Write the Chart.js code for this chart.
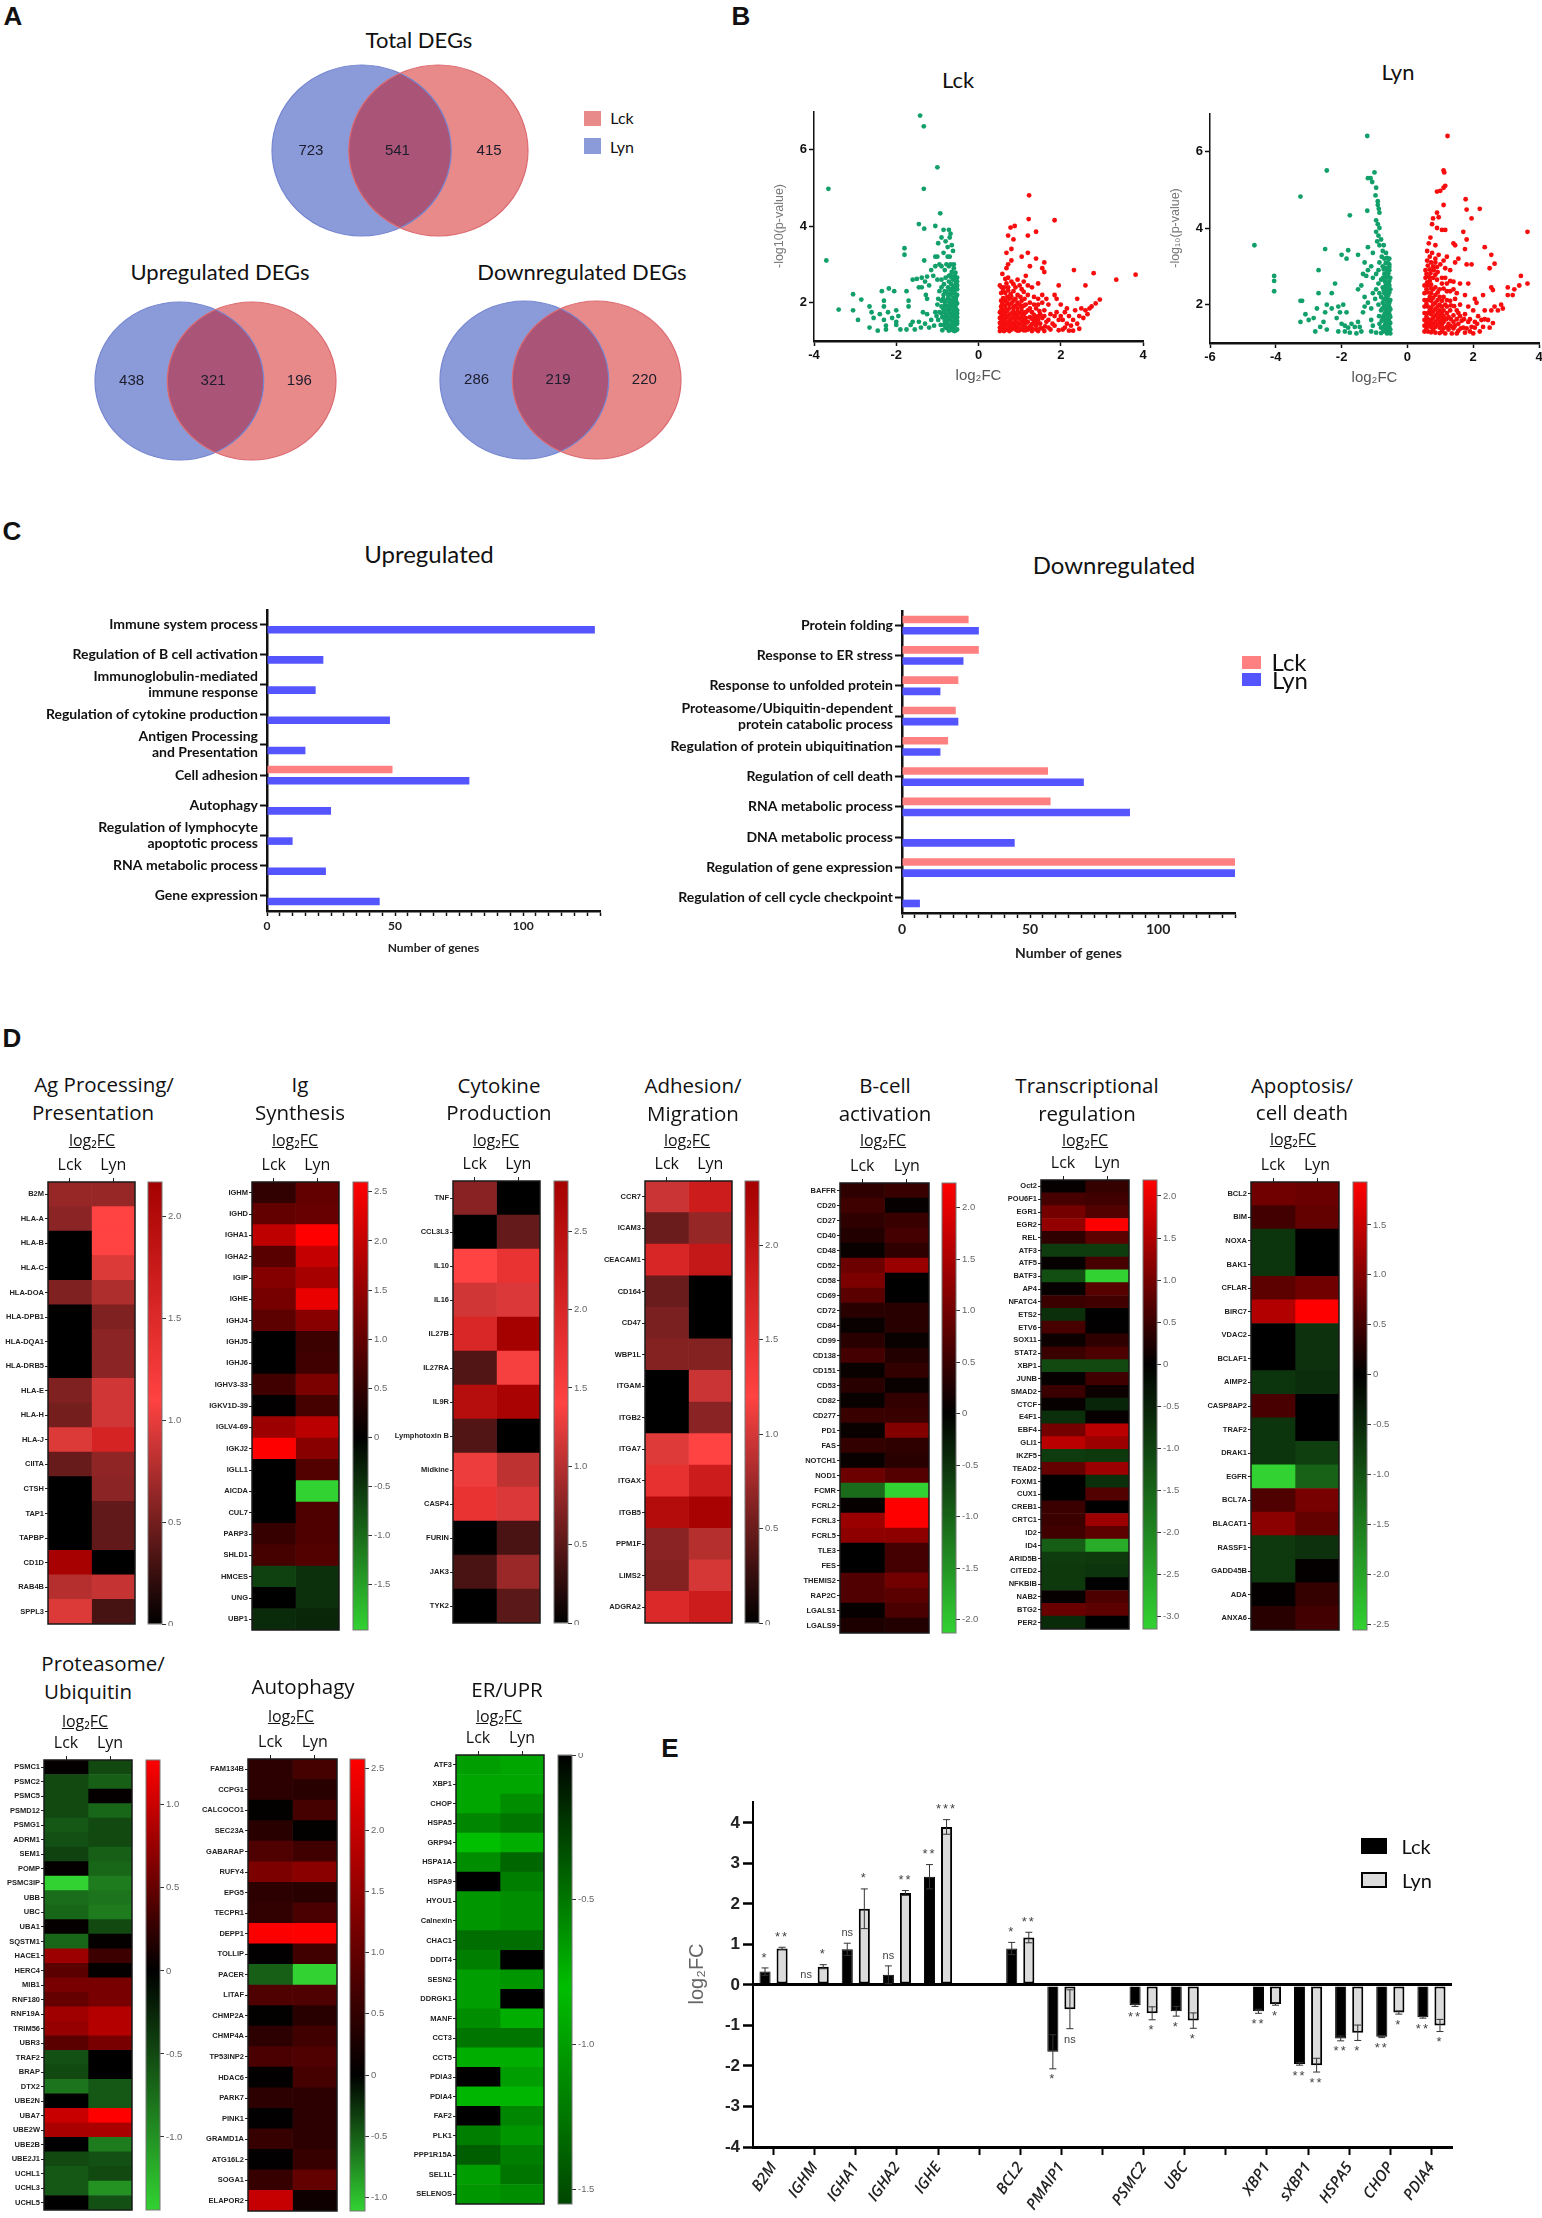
<!DOCTYPE html>
<html>
<head>
<meta charset="utf-8">
<title>DEG figure</title>
<script src="https://cdn.jsdelivr.net/npm/chart.js@4"></script>
<style>
  body { margin: 0; background: #fff; }
  #page { position: relative; width: 1542px; height: 2218px; overflow: hidden; }
  canvas { position: absolute; }
  .t { position: absolute; white-space: nowrap; transform: translate(-50%, -50%); color: #111; }
</style>
</head>
<body>
<div id="page"></div>
<script>
// ---- A: venn counts (Lyn only, both, Lck only)
const totalCounts = [723, 541, 415];
const upCounts = [438, 321, 196];
const downCounts = [286, 219, 220];

// ---- B: volcano points [log2FC, -log10 p]
const lckDown = [[-3.65,4.97],[-3.7,3.1],[-1.42,6.88],[-1.33,6.6],[-1,5.53],[-1.33,4.97],[-.93,4.33],[-1.45,4.05],[-1.05,4],[-1.32,3.93],[-.85,3.9],[-.72,3.9],[-1.8,3.42],[-1.8,3.25],[-1.32,3.1],[-3.05,2.22],[-2.85,2.08],[-3.4,1.82],[-3.05,1.8],[-2.93,1.55],[-2.65,1.9],[-2.35,2.3],[-2.18,2.37],[-2.05,2.3],[-1.75,2.3],[-2.3,2.05],[-2.3,1.9],[-1.7,2.05],[-1.7,1.9],[-2.6,1.75],[-2.55,1.6],[-2.4,1.7],[-2.2,1.75],[-2,1.8],[-2.1,1.6],[-2.3,1.55],[-1.95,1.65],[-2,1.5],[-2.65,1.35],[-2.45,1.27],[-2.25,1.4],[-2.25,1.3],[-2,1.42],[-1.9,1.3],[-1.75,1.3],[-1.65,1.42],[-1.6,1.5],[-1.55,1.3],[-1.45,1.5],[-1.4,1.35],[-1.3,1.45],[-1.35,1.75],[-1.25,1.7],[-1.2,1.35],[-1.15,1.55],[-1.05,1.75],[-1.08,1.4],[-1.6,2.6],[-1.5,2.62],[-1.38,2.65],[-1.25,2.68],[-1.1,2.7],[-1.45,2.4],[-1.38,2.4],[-1.3,2.55],[-1.2,2.45],[-1.28,2.2],[-1.25,2.1],[-1.05,2.95],[-.95,3],[-1.15,2.85],[-.85,3.3],[-1,3.2],[-1.05,3.2],[-.98,3.55],[-.9,3.7],[-.75,3.45],[-.7,3.7],[-.68,3.8],[-.8,3.6],[-.65,3.5],[-.75,3.2],[-.7,3.2],[-.62,3.35],[-.9,2.95],[-.82,2.85],[-.78,3],[-.68,3],[-.6,3],[-1,2.6],[-.9,2.6],[-.8,2.65],[-.72,2.7],[-.65,2.8],[-.58,2.7],[-.52,2.65],[-.62,2.6],[-.55,2.5],[-.95,2.3],[-.85,2.2],[-.9,2.05],[-.78,2.28],[-.7,2.35],[-.62,2.38],[-.52,2.35],[-.58,2.25],[-.66,2.2],[-.74,2.12],[-.82,2.02],[-.55,2.12],[-.62,2.05],[-.7,2],[-.76,1.92],[-.86,1.85],[-.95,1.75],[-.52,1.98],[-.58,1.9],[-.64,1.85],[-.72,1.8],[-.8,1.72],[-.88,1.62],[-.98,1.55],[-.52,1.8],[-.58,1.72],[-.66,1.68],[-.74,1.6],[-.82,1.52],[-.92,1.42],[-.52,1.62],[-.58,1.55],[-.65,1.5],[-.72,1.42],[-.8,1.35],[-.88,1.28],[-.52,1.45],[-.58,1.38],[-.64,1.32],[-.72,1.27],[-.52,1.3],[-.58,1.26],[-.55,2.2],[-.68,1.95],[-.6,1.62],[-.52,1.72],[-.7,1.55],[-.78,1.45],[-.62,1.42],[-.52,1.52],[-.56,2.02]];
const lckDownCore = [[-.55,1.28],[-.62,1.28],[-.68,1.36],[-.76,1.33],[-.84,1.42],[-.6,1.47],[-.68,1.58],[-.76,1.52],[-.84,1.62],[-.9,1.72],[-.56,1.65],[-.62,1.72],[-.7,1.72],[-.78,1.68],[-.84,1.78],[-.9,1.9],[-.55,1.85],[-.6,1.8],[-.68,1.82],[-.76,1.82],[-.82,1.92],[-.55,1.95],[-.62,1.97],[-.7,1.9],[-.78,2.05],[-.86,2.1],[-.55,2.05],[-.6,2.12],[-.68,2.08],[-.74,2.22],[-.82,2.3],[-.52,2.2],[-.6,2.3],[-.66,2.3],[-.74,2.4],[-.84,2.48],[-.52,2.45],[-.58,2.42],[-.66,2.48],[-.72,2.55],[-.58,2.6],[-.66,2.66],[-.52,2.55],[-.56,2.78],[-.6,2.9],[-.72,2.95],[-.68,2.72],[-.9,2.4],[-.98,2.1],[-1,1.95],[-1.02,1.65]];
const lckUp = [[1.23,4.8],[1.22,4.18],[1.85,4.15],[.88,4],[.78,3.96],[1.4,3.85],[1.2,3.75],[.72,3.75],[.85,3.65],[.8,3.4],[.68,3.3],[1.05,3.2],[1.2,3.3],[1.4,3.15],[.8,3.1],[.72,3],[.68,2.9],[1.25,2.95],[1.6,3.05],[1.55,2.9],[1.6,2.8],[2.32,2.85],[2.8,2.77],[3.35,2.6],[3.82,2.73],[2.6,2.45],[1.95,2.45],[1.45,2.5],[1.15,2.7],[.72,2.65],[.65,2.62],[.58,2.75],[.8,2.55],[.95,2.6],[1.1,2.55],[.52,2.45],[.62,2.4],[.72,2.4],[.9,2.4],[1.05,2.35],[1.3,2.4],[1.2,2.2],[1.55,2.2],[.55,2.25],[.65,2.25],[.78,2.22],[.95,2.2],[1.85,2.2],[1.9,2.1],[2,1.95],[2.4,2.1],[2.95,2.08],[2.85,1.98],[2.75,1.9],[2.7,1.85],[2.6,1.8],[2.55,1.6],[2.65,1.7],[2.35,1.8],[2.15,1.85],[2.1,1.75],[2.2,1.65],[2.3,1.55],[2.05,1.55],[1.95,1.55],[1.7,1.95],[1.55,2],[1.45,1.95],[1.4,1.85],[1.6,1.8],[1.75,1.7],[1.85,1.65],[.55,2.05],[.65,2.05],[.75,2.1],[.85,2.05],[.95,2],[1.05,2.05],[1.15,1.95],[1.25,2],[.55,1.9],[.65,1.92],[.75,1.95],[.85,1.88],[.95,1.85],[1.05,1.88],[1.2,1.8],[1.3,1.75],[.52,1.75],[.6,1.78],[.7,1.78],[.8,1.72],[.9,1.7],[1,1.72],[1.1,1.7],[1.25,1.62],[1.45,1.65],[1.55,1.6],[.52,1.6],[.6,1.62],[.7,1.62],[.8,1.58],[.9,1.56],[1,1.58],[1.1,1.55],[1.2,1.5],[1.35,1.5],[1.5,1.45],[1.65,1.5],[.52,1.47],[.6,1.48],[.7,1.46],[.8,1.44],[.9,1.42],[1,1.44],[1.1,1.4],[1.25,1.38],[1.4,1.4],[1.55,1.33],[.52,1.35],[.6,1.35],[.7,1.32],[.8,1.3],[.9,1.3],[1,1.28],[1.1,1.28],[1.2,1.3],[1.3,1.26],[1.45,1.26],[.52,1.26],[.62,1.26],[.75,1.26],[1.6,1.26],[1.85,1.4],[1.95,1.28],[2.05,1.3],[2.15,1.45],[2.2,1.27],[2.3,1.27],[2.45,1.32],[1.75,1.3],[1.62,1.38],[2.1,1.35],[1.38,1.6],[1.48,1.78],[1.6,1.65]];
const lckUpCore = [[.56,1.3],[.66,1.29],[.76,1.36],[.86,1.36],[.96,1.35],[1.06,1.34],[1.16,1.35],[1.3,1.33],[1.4,1.3],[1.5,1.33],[.56,1.41],[.65,1.42],[.75,1.4],[.85,1.48],[.95,1.48],[1.05,1.49],[1.15,1.46],[1.3,1.44],[1.42,1.48],[.56,1.53],[.65,1.55],[.75,1.52],[.85,1.62],[.95,1.63],[1.05,1.62],[1.15,1.6],[1.3,1.58],[1.45,1.55],[.56,1.68],[.65,1.7],[.75,1.68],[.85,1.78],[.95,1.76],[1.05,1.78],[1.15,1.75],[1.35,1.68],[1.25,1.85],[.56,1.82],[.65,1.84],[.75,1.85],[.9,1.92],[1,1.95],[1.1,1.92],[.58,1.97],[.7,2],[.8,1.98],[.9,2.1],[1.02,2.15],[1.12,2.1],[.6,2.12],[.7,2.15],[.8,2.15],[.6,2.32],[.72,2.32],[.85,2.3],[1.1,2.28],[.56,2.4],[.68,2.5],[.85,2.48],[1,2.45],[1.2,2.45],[1.35,2.15],[1.45,2.1],[1.65,2.1],[1.7,1.55],[1.8,1.45],[1.9,1.75],[2.0,1.65],[2.25,1.4],[2.4,1.45],[2.45,1.65],[2.5,1.85],[1.35,1.95],[1.5,1.7],[1.7,1.35],[1.15,1.28],[.95,1.27]];
const lynDown = [[-4.65,3.55],[-4.05,2.75],[-4.05,2.62],[-4.05,2.35],[-3.25,4.82],[-2.45,5.5],[-1.22,6.4],[-1,5.45],[-1.12,5.3],[-1.2,5.3],[-1.07,5.2],[-.95,5.05],[-.97,4.85],[-.9,4.7],[-1.75,4.33],[-1.22,4.45],[-.9,4.6],[-.87,4.5],[-.85,4.4],[-.95,4.2],[-.9,4.1],[-.85,4],[-.95,3.9],[-.88,3.8],[-.92,3.65],[-.8,3.7],[-.85,3.55],[-2.5,3.45],[-1.8,3.42],[-2,3.3],[-1.85,3.2],[-1.5,3.3],[-1.2,3.5],[-1.05,3.35],[-1.3,3.1],[-2.7,2.9],[-2.2,2.55],[-3.2,2.1],[-3.25,2.1],[-2.3,2.3],[-2.7,2.3],[-2.45,2],[-2.75,1.9],[-2.1,1.95],[-1.95,2],[-1.85,1.8],[-2.05,1.8],[-2.3,1.9],[-2.5,1.8],[-3.1,1.75],[-3,1.6],[-3.25,1.55],[-2.85,1.65],[-2.55,1.55],[-2.65,1.42],[-2.8,1.3],[-2.45,1.35],[-2.15,1.65],[-2,1.5],[-1.9,1.45],[-1.8,1.4],[-1.7,1.5],[-1.6,1.42],[-1.5,1.55],[-2.1,1.3],[-1.9,1.3],[-1.75,1.27],[-1.55,1.25],[-1.4,1.3],[-1.45,1.42],[-1.1,1.6],[-1.05,1.45],[-1.1,1.3],[-.95,1.27],[-1.5,2.4],[-1.4,2.5],[-1.35,2.8],[-1.25,2.75],[-1.3,2.2],[-1.2,2.9],[-1.1,3],[-1.05,2.7],[-1.05,2.3],[-1.2,2.05],[-1.3,1.95],[-1.35,1.8],[-1.1,1.9],[-.98,2.15],[-.95,2.4],[-.95,2.8],[-.75,3.4],[-.65,3.35],[-.7,3.2],[-.6,3.1],[-.75,3],[-.65,2.95],[-.55,2.9],[-.7,2.8],[-.6,2.75],[-.52,2.7],[-.8,2.65],[-.68,2.6],[-.58,2.55],[-.75,2.45],[-.62,2.42],[-.52,2.4],[-.7,2.3],[-.58,2.25],[-.8,2.2],[-.65,2.15],[-.52,2.12],[-.75,2.05],[-.6,2],[-.68,1.9],[-.52,1.88],[-.8,1.85],[-.6,1.78],[-.72,1.72],[-.52,1.68],[-.62,1.6],[-.78,1.58],[-.52,1.52],[-.68,1.48],[-.58,1.42],[-.8,1.4],[-.52,1.35],[-.68,1.32],[-.58,1.27],[-.8,1.26],[-.52,1.25],[-.55,2.05],[-.62,1.92],[-.55,1.75],[-.7,1.62],[-.56,1.58],[-.6,2.35],[-.55,2.62],[-.62,2.85],[-.55,3.05]];
const lynDownCore = [[-.72,3.55],[-.78,3.25],[-.62,3.22],[-.55,3.2],[-.66,3.08],[-.72,2.92],[-.55,2.98],[-.65,2.7],[-.58,2.82],[-.74,2.7],[-.55,2.5],[-.66,2.5],[-.72,2.38],[-.55,2.32],[-.65,2.25],[-.72,2.15],[-.58,2.14],[-.62,2.08],[-.7,1.98],[-.56,1.96],[-.76,1.9],[-.64,1.84],[-.55,1.84],[-.68,1.78],[-.6,1.7],[-.75,1.66],[-.56,1.66],[-.66,1.55],[-.58,1.5],[-.72,1.42],[-.62,1.36],[-.55,1.42],[-.74,1.3],[-.62,1.25],[-.85,1.5],[-.86,1.7],[-.88,2],[-.85,2.3],[-.88,2.55],[-.88,2.9],[-.85,3.1]];
const lynUp = [[1.22,6.4],[1.1,5.5],[1.12,5.45],[1.15,5.1],[.9,4.95],[1,4.97],[1.1,5.05],[1.77,4.75],[1.1,4.6],[.9,4.4],[1.8,4.48],[2.2,4.5],[1.95,4.25],[.95,4.28],[.78,4.25],[.75,4.1],[.9,4],[3.65,3.9],[1.7,3.9],[1.05,3.95],[1.15,3.95],[1.8,3.7],[.7,3.75],[.65,3.6],[.85,3.55],[1.4,3.6],[1.45,3.55],[1.75,3.45],[2.35,3.5],[2.55,3.3],[.6,3.4],[.75,3.35],[.95,3.3],[1.2,3.25],[1.55,3.2],[1.45,3.1],[1.8,3.05],[1.95,3.05],[2.65,3.07],[2.5,2.95],[.6,3.15],[.72,3.1],[.85,3.1],[1,3.05],[1.15,2.95],[1.3,2.9],[.55,2.9],[.68,2.92],[.8,2.9],[.92,2.85],[3.45,2.75],[3.65,2.55],[3.4,2.5],[3.05,2.45],[3.25,2.4],[3.2,2.25],[3.05,2.25],[2.55,2.45],[2.6,2.38],[2.3,2.25],[1.85,2.55],[1.6,2.55],[1.4,2.6],[1.15,2.7],[.55,2.7],[.66,2.72],[.78,2.7],[.9,2.65],[1.05,2.55],[.52,2.5],[.62,2.5],[.72,2.52],[.85,2.45],[.98,2.4],[1.2,2.35],[1.5,2.3],[1.75,2.25],[.52,2.3],[.62,2.32],[.72,2.3],[.85,2.25],[.98,2.2],[1.1,2.2],[1.3,2.1],[1.45,2.15],[2.05,2.15],[2.1,2.05],[2.85,2],[2.9,1.9],[2.65,1.95],[2.75,1.85],[2.55,1.85],[2.35,1.85],[.52,2.12],[.62,2.12],[.72,2.1],[.85,2.05],[.98,2],[1.15,2],[1.6,2],[1.85,1.95],[2,1.85],[.52,1.95],[.62,1.95],[.72,1.92],[.85,1.88],[.98,1.85],[1.1,1.85],[1.3,1.85],[1.5,1.85],[.52,1.78],[.62,1.78],[.72,1.75],[.85,1.72],[.98,1.7],[1.1,1.7],[1.25,1.68],[1.4,1.72],[1.6,1.7],[1.75,1.75],[2.15,1.7],[2.25,1.6],[2.05,1.55],[2.45,1.6],[.52,1.6],[.62,1.62],[.72,1.6],[.85,1.56],[.98,1.55],[1.1,1.55],[1.25,1.5],[1.4,1.55],[1.55,1.5],[1.85,1.55],[.52,1.45],[.62,1.45],[.72,1.42],[.85,1.42],[.98,1.4],[1.1,1.38],[1.25,1.35],[1.4,1.38],[1.55,1.32],[1.7,1.4],[2.3,1.42],[2.5,1.4],[2.2,1.3],[.52,1.3],[.62,1.3],[.72,1.28],[.85,1.27],[.98,1.26],[1.15,1.25],[1.35,1.25],[1.5,1.25],[1.75,1.27],[1.9,1.3],[2,1.25],[.58,1.38],[.68,1.52],[.58,1.68],[.68,1.85],[.58,2.02],[.68,2.2],[.58,2.4],[.68,2.62],[.78,1.35],[.78,1.5],[.92,1.63],[.92,1.48]];
const lynUpCore = [[.58,1.52],[.78,1.65],[.92,1.78],[.78,1.82],[.92,1.95],[.78,2],[.92,2.12],[.78,2.18],[.92,2.32],[.78,2.4],[.6,2.58],[.72,2.42],[.58,2.8],[.7,2.82],[.85,2.78],[.62,3.02],[.78,3],[.9,2.98],[.68,3.25],[.85,3.2],[1.05,1.3],[1.2,1.42],[1.05,1.48],[1.18,1.62],[1.05,1.62],[1.2,1.78],[1.05,1.78],[1.2,1.95],[1.05,1.95],[1.05,2.1],[1.2,2.12],[1.32,1.62],[1.45,1.45],[1.32,1.44],[1.32,1.98],[1.42,1.96],[1.5,1.62],[1.62,1.38],[1.65,1.58],[1.72,1.62],[1.55,1.78],[1.8,1.38],[1.9,1.62],[1.95,1.42],[2.05,1.4],[2.12,1.5],[2.35,1.62],[2.6,1.52],[1.1,2.42],[1.3,2.35],[1.05,2.7],[1.3,2.62],[1.2,2.55],[1.1,3.15],[1.4,2.4]];

// ---- C: enrichment bars
const upTerms = ['Immune system process','Regulation of B cell activation',['Immunoglobulin-mediated','immune response'],'Regulation of cytokine production',['Antigen Processing','and Presentation'],'Cell adhesion','Autophagy',['Regulation of lymphocyte','apoptotic process'],'RNA metabolic process','Gene expression'];
const upLck = [0, 0, 0, 0, 0, 49, 0, 0, 0, 0];
const upLyn = [128, 22, 19, 48, 15, 79, 25, 10, 23, 44];
const downTerms = ['Protein folding','Response to ER stress','Response to unfolded protein',['Proteasome/Ubiquitin-dependent','protein catabolic process'],'Regulation of protein ubiquitination','Regulation of cell death','RNA metabolic process','DNA metabolic process','Regulation of gene expression','Regulation of cell cycle checkpoint'];
const downLck = [26, 30, 22, 21, 18, 57, 58, 0, 130, 0];
const downLyn = [30, 24, 15, 22, 15, 71, 89, 44, 130, 7];

// ---- D: heatmaps, log2FC per gene
const agGenes = ['B2M','HLA-A','HLA-B','HLA-C','HLA-DOA','HLA-DPB1','HLA-DQA1','HLA-DRB5','HLA-E','HLA-H','HLA-J','CIITA','CTSH','TAP1','TAPBP','CD1D','RAB4B','SPPL3'];
const agLck = [.65,.6,0,0,.55,0,0,0,.55,.5,.95,.45,0,0,0,2.15,.78,.95];
const agLyn = [.65,1.1,1.1,.95,.75,.55,.6,.6,.9,.9,1.6,.62,.6,.42,.42,0,.85,.3];
const igGenes = ['IGHM','IGHD','IGHA1','IGHA2','IGIP','IGHE','IGHJ4','IGHJ5','IGHJ6','IGHV3-33','IGKV1D-39','IGLV4-69','IGKJ2','IGLL1','AICDA','CUL7','PARP3','SHLD1','HMCES','UNG','UBP1'];
const igLck = [.5,1,1.95,.9,1.35,1.2,.95,0,0,.65,.02,1.6,2.6,0,0,0,.55,.7,-.6,0,-.4];
const igLyn = [1,1.05,2.6,2,1.7,2.4,1.4,.6,.65,1.25,.7,1.9,1.4,.85,-1.96,.8,.8,.85,-.45,-.45,-.35];
const cytoGenes = ['TNF','CCL3L3','IL10','IL16','IL27B','IL27RA','IL9R','Lymphotoxin B','Midkine','CASP4','FURIN','JAK3','TYK2'];
const cytoLck = [.75,0,1.4,1.15,2,.45,2.55,.45,1.3,1.75,0,.4,0];
const cytoLyn = [0,.55,1.75,1.2,2.8,1.35,2.75,0,1.05,1.2,.4,.85,.5];
const adhGenes = ['CCR7','ICAM3','CEACAM1','CD164','CD47','WBP1L','ITGAM','ITGB2','ITGA7','ITGAX','ITGB5','PPM1F','LIMS2','ADGRA2'];
const adhLck = [.95,.5,1.7,.5,.58,.62,0,0,1.05,1.5,2.15,.65,.62,1.65];
const adhLyn = [1.85,.7,1.95,0,0,.62,.95,.65,1.2,1.85,2.3,.85,1,1.85];
const bcellGenes = ['BAFFR','CD20','CD27','CD40','CD48','CD52','CD58','CD69','CD72','CD84','CD99','CD138','CD151','CD53','CD82','CD277','PD1','FAS','NOTCH1','NOD1','FCMR','FCRL2','FCRL3','FCRL5','TLE3','FES','THEMIS2','RAP2C','LGALS1','LGALS9'];
const bcellLck = [.4,.55,.4,.3,.08,.95,1.1,.8,.35,.08,.35,.6,.08,.35,.08,.5,.08,.45,.08,.95,-1.1,.05,1.35,1.25,0,0,.7,.7,.05,.25];
const bcellLyn = [.5,.05,.5,.6,.4,1.35,0,0,.35,.35,.08,.3,.45,.08,.45,.5,1.15,.4,.35,.75,-2.13,2.24,2.24,1.25,.6,.6,1,.8,.65,.3];
const tfGenes = ['Oct2','POU6F1','EGR1','EGR2','REL','ATF3','ATF5','BATF3','AP4','NFATC4','ETS2','ETV6','SOX11','STAT2','XBP1','JUNB','SMAD2','CTCF','E4F1','EBF4','GLI1','IKZF5','TEAD2','FOXM1','CUX1','CREB1','CRTC1','ID2','ID4','ARID5B','CITED2','NFKBIB','NAB2','BTG2','PER2'];
const tfLck = [.05,.6,1,1.25,.4,-.9,.05,-1.15,.05,.5,-.7,.6,.1,.5,-1.1,.05,.5,.05,-.7,1,1.6,-.9,.85,0,0,.5,.5,.55,-1.4,-.9,-.85,-.85,.05,.9,-.65];
const tfLyn = [.45,.55,.7,2.19,.8,-.9,.6,-3.15,.75,.55,0,.02,.4,.65,-1.1,.55,.1,-.55,.05,1.6,1.35,-.85,1.35,-.7,.7,0,1.35,.8,-2.6,-.85,-.8,0,.65,.8,0];
const apoGenes = ['BCL2','BIM','NOXA','BAK1','CFLAR','BIRC7','VDAC2','BCLAF1','AIMP2','CASP8AP2','TRAF2','DRAK1','EGFR','BCL7A','BLACAT1','RASSF1','GADD45B','ADA','ANXA6'];
const apoLck = [.85,.5,-.65,-.65,.7,1.35,0,0,-.65,.55,-.65,-.65,-2.56,.6,1.05,-.7,-.7,.03,.3];
const apoLyn = [.8,.75,0,0,.85,1.93,-.6,-.6,-.55,0,0,-.75,-1.2,.9,.75,-.6,.03,.4,.5];
const protGenes = ['PSMC1','PSMC2','PSMC5','PSMD12','PSMG1','ADRM1','SEM1','POMP','PSMC3IP','UBB','UBC','UBA1','SQSTM1','HACE1','HERC4','MIB1','RNF180','RNF19A','TRIM56','UBR3','TRAF2','BRAP','DTX2','UBE2N','UBA7','UBE2W','UBE2B','UBE2J1','UCHL1','UCHL3','UCHL5'];
const protLck = [.02,-.5,-.5,-.5,-.6,-.55,-.45,.02,-1.44,-.75,-.7,.02,-.7,.78,.45,.6,.5,.8,.75,.45,-.55,-.5,-.8,0,1,.85,0,-.5,-.6,-.6,0];
const protLyn = [-.5,-.65,.02,-.7,-.5,-.5,-.65,-.7,-.85,-.8,-.85,-.5,.02,.3,.02,.6,.6,.9,.9,.6,0,0,-.6,-.6,1.27,.85,-.85,-.55,-.5,-1,-.55];
const autoGenes = ['FAM134B','CCPG1','CALCOCO1','SEC23A','GABARAP','RUFY4','EPG5','TECPR1','DEPP1','TOLLIP','PACER','LITAF','CHMP2A','CHMP4A','TP53INP2','HDAC6','PARK7','PINK1','GRAMD1A','ATG16L2','SOGA1','ELAPOR2'];
const autoLck = [.45,.45,.03,.4,.8,1.25,.45,.5,2.55,.02,-.5,.8,.03,.45,.75,.02,.45,.02,.55,.02,.55,2];
const autoLyn = [.7,.4,.7,.03,.65,1.4,.4,.75,2.58,.65,-1.11,.8,.4,.65,.8,.7,.45,.45,.45,.55,1,.15];
const erGenes = ['ATF3','XBP1','CHOP','HSPA5','GRP94','HSPA1A','HSPA9','HYOU1','Calnexin','CHAC1','DDIT4','SESN2','DDRGK1','MANF','CCT3','CCT5','PDIA3','PDIA4','FAF2','PLK1','PPP1R15A','SEL1L','SELENOS'];
const erLck = [-1,-.95,-.95,-1.15,-.8,-1.1,0,-1.05,-1.05,-1.3,-1.2,-1,-1,-1.1,-1.25,-.9,0,-.85,0,-1.2,-1.4,-1,-1.05];
const erLyn = [-.95,-.95,-1.1,-1.25,-.9,-1.35,-1.2,-1.1,-1.1,-1.3,0,-1.05,0,-.9,-1.25,-.9,-1,-.85,-1.15,-1.05,-1.2,-1.25,-1.1];

// ---- E: qPCR bars
const qpcrGenes = ['B2M','IGHM','IGHA1','IGHA2','IGHE','','BCL2','PMAIP1','','PSMC2','UBC','','XBP1','sXBP1','HSPA5','CHOP','PDIA4'];
const qpcrLck = [.33,0,.88,.25,2.67,null,.9,-1.65,null,-.5,-.65,null,-.65,-1.95,-1.32,-1.28,-.8];
const qpcrLyn = [.9,.45,1.88,2.27,3.9,null,1.17,-.6,null,-.7,-.88,null,-.47,-1.98,-1.18,-.68,-1];
const qpcrLckErr = [.09,0,.15,.22,.3,null,.15,.42,null,.03,.12,null,.05,.03,.06,.02,.02];
const qpcrLynErr = [.03,.05,.49,.06,.18,null,.13,.48,null,.16,.19,null,.03,.17,.19,.04,.15];
const qpcrLckSig = ['*','ns','ns','ns','**','','*','*','','**','*','','**','**','**','**','**'];
const qpcrLynSig = ['**','*','*','**','***','','**','ns','','*','*','','*','**','*','*','*'];

const LATO = 'Lato, sans-serif';
const OPEN = '"Open Sans", sans-serif';
const NARROW = '"Liberation Sans Narrow", "Liberation Sans", sans-serif';
const ARIAL = '"Liberation Sans", sans-serif';

Chart.defaults.animation = false;
Chart.defaults.responsive = false;
Chart.defaults.maintainAspectRatio = false;
Chart.defaults.plugins.legend.display = false;
Chart.defaults.plugins.tooltip.enabled = false;
Chart.defaults.layout.autoPadding = false;

const page = document.getElementById('page');

function text(str, x, y, size, family, extra) {
  const d = document.createElement('div');
  d.className = 't';
  d.textContent = str;
  d.style.left = x + 'px';
  d.style.top = y + 'px';
  d.style.fontSize = size + 'px';
  d.style.fontFamily = family;
  Object.assign(d.style, extra || {});
  page.appendChild(d);
}

function swatch(x, y, w, h, color, border) {
  const d = document.createElement('div');
  d.style.cssText = `position:absolute;left:${x}px;top:${y}px;width:${w}px;height:${h}px;background:${color};box-sizing:border-box;` + (border ? `border:2px solid ${border};` : '');
  page.appendChild(d);
}

function canvasAt(x, y, w, h) {
  const c = document.createElement('canvas');
  c.width = w;
  c.height = h;
  c.style.left = x + 'px';
  c.style.top = y + 'px';
  c.style.width = w + 'px';
  c.style.height = h + 'px';
  page.appendChild(c);
  return c;
}

// pin the axis boxes so every plot area lands where the reference has it
const fixHeight = h => s => { s.height = h; s.paddingLeft = 0; s.paddingRight = 0; };
const fixWidth = w => s => { s.width = w; s.paddingTop = 0; s.paddingBottom = 0; };
const setTicks = vals => s => { s.ticks = vals.map(value => ({ value })); };

// ---- panel A
const vennPlugin = {
  id: 'venn',
  beforeDatasetsDraw(chart) {
    const { ctx, scales: { x, y } } = chart;
    const counts = chart.config.options.plugins.venn.counts;
    const span = (a, b) => {
      const cx = x.getPixelForValue((a + b) / 2);
      const rx = (x.getPixelForValue(b) - x.getPixelForValue(a)) / 2;
      const ry = (y.getPixelForValue(0) - y.getPixelForValue(1)) / 2;
      const p = new Path2D();
      p.ellipse(cx, y.getPixelForValue(.5), rx, ry, 0, 0, Math.PI * 2);
      return p;
    };
    const lyn = span(0, .7);
    const lck = span(.3, 1);
    ctx.save();
    ctx.fillStyle = '#8b9bd9';
    ctx.fill(lyn);
    ctx.fillStyle = '#e88a8a';
    ctx.fill(lck);
    ctx.save();
    ctx.clip(lyn);
    ctx.fillStyle = '#aa5578';
    ctx.fill(lck);
    ctx.restore();
    ctx.lineWidth = 1.2;
    ctx.strokeStyle = '#7686d0';
    ctx.stroke(lyn);
    ctx.strokeStyle = '#dc6b72';
    ctx.stroke(lck);
    ctx.fillStyle = '#1c1c2c';
    ctx.font = '15px ' + ARIAL;
    ctx.textAlign = 'center';
    ctx.textBaseline = 'middle';
    [.152, .49, .848].forEach((pos, i) => {
      ctx.fillText(String(counts[i]), x.getPixelForValue(pos), y.getPixelForValue(.5));
    });
    ctx.restore();
  }
};

function venn(left, top, right, bottom, counts) {
  const pad = 3;
  new Chart(canvasAt(left - pad, top - pad, right - left + pad * 2, bottom - top + pad * 2), {
    type: 'scatter',
    data: { datasets: [{ data: [] }] },
    options: {
      layout: { padding: pad },
      plugins: { venn: { counts } },
      scales: { x: { display: false, min: 0, max: 1 }, y: { display: false, min: 0, max: 1 } }
    },
    plugins: [vennPlugin]
  });
}

venn(272, 65, 528, 236, totalCounts);
venn(95, 302, 336, 460, upCounts);
venn(440, 301, 681, 459, downCounts);
text('A', 13, 16, 26, ARIAL, { fontWeight: 'bold' });
text('Total DEGs', 419, 39, 22, LATO);
text('Upregulated DEGs', 220, 271, 22, LATO);
text('Downregulated DEGs', 582, 271, 22, LATO);
swatch(584, 111, 17, 15, '#e88a8a');
swatch(584, 138, 17, 16, '#8b9bd9');
text('Lck', 622, 117, 16, LATO);
text('Lyn', 622, 146, 16, LATO);

// ---- panel B
function volcano(l, t, r, b, down, up, xMin, xMax, xTicks, yLabel) {
  const ml = 42, mb = 44, mr = 12;
  new Chart(canvasAt(l - ml, t, r - l + ml + mr, b - t + mb), {
    type: 'scatter',
    data: { datasets: [
      { data: down.map(p => ({ x: p[0], y: p[1] })), backgroundColor: '#12a06a', pointRadius: 2.4, borderWidth: 0 },
      { data: up.map(p => ({ x: p[0], y: p[1] })), backgroundColor: '#f70d0d', pointRadius: 2.4, borderWidth: 0 }
    ] },
    options: {
      layout: { padding: { right: mr } },
      scales: {
        x: {
          min: xMin, max: xMax, afterBuildTicks: setTicks(xTicks), afterFit: fixHeight(mb),
          border: { color: '#111', width: 2.5 },
          grid: { drawOnChartArea: false, tickLength: 5, tickColor: '#111', tickWidth: 1.5 },
          ticks: { color: '#111', font: { family: NARROW, size: 13, weight: 'bold' }, padding: 2, maxRotation: 0 },
          title: { display: true, text: 'log₂FC', color: '#555', font: { family: NARROW, size: 15 }, padding: 0 }
        },
        y: {
          min: 1, max: 7, afterBuildTicks: setTicks([2, 4, 6]), afterFit: fixWidth(ml),
          border: { color: '#111', width: 1.5 },
          grid: { drawOnChartArea: false, tickLength: 5, tickColor: '#111', tickWidth: 1.5 },
          ticks: { color: '#111', font: { family: NARROW, size: 13, weight: 'bold' }, padding: 2 },
          title: { display: true, text: yLabel, color: '#777', font: { family: ARIAL, size: 12.5 }, padding: 0 }
        }
      }
    }
  });
}

volcano(814, 111, 1143, 341, [...lckDown, ...lckDownCore], [...lckUp, ...lckUpCore], -4, 4, [-4, -2, 0, 2, 4], '-log10(p-value)');
volcano(1210, 113, 1539, 343, [...lynDown, ...lynDownCore], [...lynUp, ...lynUpCore], -6, 4, [-6, -4, -2, 0, 2, 4], '-log₁₀(p-value)');
text('B', 741, 16, 26, ARIAL, { fontWeight: 'bold' });
text('Lck', 958, 79, 22, LATO);
text('Lyn', 1398, 71, 22, LATO);

// ---- panel C
function termBars(l, t, r, b, terms, lck, lyn, size, mb, titleSize) {
  const ml = 268;
  new Chart(canvasAt(l - ml, t, r - l + ml + 10, b - t + mb), {
    type: 'bar',
    data: { labels: terms, datasets: [
      { data: lck, backgroundColor: '#ff8080' },
      { data: lyn, backgroundColor: '#5555ff' }
    ] },
    options: {
      indexAxis: 'y',
      layout: { padding: { right: 10 } },
      datasets: { bar: { categoryPercentage: .74, barPercentage: .68 } },
      scales: {
        x: {
          min: 0, max: 130, afterFit: fixHeight(mb),
          border: { color: '#111', width: 2.5 },
          grid: { drawOnChartArea: false, tickLength: 5, tickColor: '#111', tickWidth: 1.5 },
          ticks: { stepSize: 5, includeBounds: false, autoSkip: false, maxRotation: 0, color: '#222', padding: 3,
            font: { family: LATO, size: titleSize, weight: 'bold' },
            callback: v => (v % 50 === 0 ? String(v) : '') },
          title: { display: true, text: 'Number of genes', color: '#222', font: { family: LATO, size: titleSize, weight: 'bold' }, padding: 0 }
        },
        y: {
          afterFit: fixWidth(ml),
          border: { color: '#111', width: 2.5 },
          grid: { offset: false, drawOnChartArea: false, tickLength: 7, tickColor: '#111', tickWidth: 2 },
          ticks: { autoSkip: false, color: '#111', padding: 2, font: { family: LATO, size, weight: 'bold', lineHeight: 1.15 } }
        }
      }
    }
  });
}

termBars(267, 609, 600, 911, upTerms, upLck, upLyn, 14, 44, 12);
termBars(902, 610, 1235, 913, downTerms, downLck, downLyn, 14, 49, 14);
text('C', 12, 531, 26, ARIAL, { fontWeight: 'bold' });
text('Upregulated', 429, 553, 24, LATO);
text('Downregulated', 1114, 564, 24, LATO);
swatch(1242, 656, 19, 13, '#ff8080');
swatch(1242, 673, 19, 13, '#5555ff');
text('Lck', 1289, 661, 24, LATO);
text('Lyn', 1290, 679, 24, LATO);

// ---- panel D
const BLACK = [0, 0, 0], CORAL = [255, 66, 66], DEEP = [165, 0, 0], RED = [255, 0, 0], LIME = [50, 210, 50];

function colorAt(stops, v) {
  if (v <= stops[0][0]) return `rgb(${stops[0][1]})`;
  for (let i = 1; i < stops.length; i++) {
    if (v <= stops[i][0]) {
      const t = (v - stops[i - 1][0]) / (stops[i][0] - stops[i - 1][0]);
      const c = stops[i][1].map((n, k) => Math.round(stops[i - 1][1][k] + (n - stops[i - 1][1][k]) * t));
      return `rgb(${c})`;
    }
  }
  return `rgb(${stops[stops.length - 1][1]})`;
}

const framePlugin = {
  id: 'frame',
  afterDatasetsDraw(chart, args, opts) {
    const { ctx, chartArea: a } = chart;
    ctx.save();
    ctx.strokeStyle = opts.color;
    ctx.lineWidth = opts.width;
    ctx.strokeRect(a.left, a.top, a.right - a.left, a.bottom - a.top);
    ctx.restore();
  }
};

function heatmap(p) {
  const ml = 62, mt = 32, pad = 2;
  const [l, t, r, b] = p.plot;
  new Chart(canvasAt(l - ml, t - mt, r - l + ml + pad, b - t + mt + pad), {
    type: 'bar',
    data: { labels: p.genes, datasets: [
      { data: p.genes.map(() => 1), backgroundColor: c => colorAt(p.stops, p.lck[c.dataIndex]) },
      { data: p.genes.map(() => 1), backgroundColor: c => colorAt(p.stops, p.lyn[c.dataIndex]) }
    ] },
    options: {
      indexAxis: 'y',
      layout: { padding: { right: pad, bottom: pad } },
      datasets: { bar: { categoryPercentage: 1, barPercentage: 1 } },
      plugins: { frame: { color: '#1a1a1a', width: 1.5 } },
      scales: {
        x: {
          type: 'linear', position: 'top', stacked: true, min: 0, max: 2,
          afterBuildTicks: setTicks([.5, 1.5]), afterFit: fixHeight(mt),
          border: { display: false },
          grid: { drawOnChartArea: false, tickLength: 4, tickColor: '#222' },
          ticks: { callback: v => (v < 1 ? 'Lck' : 'Lyn'), color: '#111', padding: 3, maxRotation: 0, font: { family: OPEN, size: 16 } }
        },
        y: {
          stacked: true, afterFit: fixWidth(ml),
          border: { display: false },
          grid: { offset: false, drawOnChartArea: false, tickLength: 3, tickColor: '#222' },
          ticks: { autoSkip: false, color: '#222', padding: 1, font: { family: ARIAL, size: 7.5, weight: 'bold' } }
        }
      }
    },
    plugins: [framePlugin]
  });
  colorbar(p);
  p.title.forEach(line => text(line[0], line[1], line[2] - 1, 20.5, OPEN));
  text('log₂FC', p.fcX, p.fcY - 1, 16, OPEN, { textDecoration: 'underline' });
}

function colorbar(p) {
  const [bl, br] = p.bar;
  const t = p.plot[1], b = p.plot[3];
  const low = p.stops[0][0], high = p.stops[p.stops.length - 1][0];
  const mr = 34;
  new Chart(canvasAt(bl - 2, t - 2, br - bl + 2 + mr, b - t + 4), {
    type: 'bar',
    data: { labels: [''], datasets: [{
      data: [[low, high]],
      backgroundColor: c => {
        const a = c.chart.chartArea;
        if (!a) return '#000';
        const g = c.chart.ctx.createLinearGradient(0, a.bottom, 0, a.top);
        p.stops.forEach(st => g.addColorStop((st[0] - low) / (high - low), colorAt(p.stops, st[0])));
        return g;
      }
    }] },
    options: {
      layout: { padding: { left: 2, top: 2, bottom: 2 } },
      datasets: { bar: { categoryPercentage: 1, barPercentage: 1 } },
      plugins: { frame: { color: '#777', width: 1 } },
      scales: {
        x: { display: false },
        y: {
          position: 'right', min: low, max: high,
          afterBuildTicks: setTicks(p.ticks), afterFit: fixWidth(mr),
          border: { display: false },
          grid: { drawOnChartArea: false, tickLength: 4, tickColor: '#333' },
          ticks: { autoSkip: false, color: '#666', padding: 2, font: { family: ARIAL, size: 9.5 },
            callback: v => (v === 0 ? '0' : v.toFixed(1)) }
        }
      }
    },
    plugins: [framePlugin]
  });
}

const redPeak = (peak, max) => [[0, BLACK], [peak, CORAL], [max, DEEP]];
const redGreen = (min, max) => [[min, LIME], [0, BLACK], [max, RED]];

heatmap({ genes: agGenes, lck: agLck, lyn: agLyn, plot: [48, 1182, 135, 1624], bar: [148, 162],
  stops: redPeak(1.1, 2.17), ticks: [0, .5, 1, 1.5, 2],
  title: [['Ag Processing/', 104, 1085], ['Presentation', 93, 1113]], fcX: 92, fcY: 1141 });
heatmap({ genes: igGenes, lck: igLck, lyn: igLyn, plot: [252, 1182, 339, 1630], bar: [353, 368],
  stops: redGreen(-1.96, 2.6), ticks: [-1.5, -1, -.5, 0, .5, 1, 1.5, 2, 2.5],
  title: [['Ig', 300, 1085], ['Synthesis', 300, 1113]], fcX: 295, fcY: 1141 });
heatmap({ genes: cytoGenes, lck: cytoLck, lyn: cytoLyn, plot: [453, 1181, 540, 1623], bar: [554, 568],
  stops: redPeak(1.4, 2.82), ticks: [0, .5, 1, 1.5, 2, 2.5],
  title: [['Cytokine', 499, 1086], ['Production', 499, 1113]], fcX: 496, fcY: 1141 });
heatmap({ genes: adhGenes, lck: adhLck, lyn: adhLyn, plot: [645, 1181, 732, 1623], bar: [745, 759],
  stops: redPeak(1.2, 2.34), ticks: [0, .5, 1, 1.5, 2],
  title: [['Adhesion/', 693, 1086], ['Migration', 693, 1114]], fcX: 687, fcY: 1141 });
heatmap({ genes: bcellGenes, lck: bcellLck, lyn: bcellLyn, plot: [840, 1183, 929, 1633], bar: [942, 956],
  stops: redGreen(-2.13, 2.24), ticks: [-2, -1.5, -1, -.5, 0, .5, 1, 1.5, 2],
  title: [['B-cell', 885, 1086], ['activation', 885, 1114]], fcX: 883, fcY: 1141 });
heatmap({ genes: tfGenes, lck: tfLck, lyn: tfLyn, plot: [1041, 1180, 1129, 1629], bar: [1143, 1157],
  stops: redGreen(-3.15, 2.19), ticks: [-3, -2.5, -2, -1.5, -1, -.5, 0, .5, 1, 1.5, 2],
  title: [['Transcriptional', 1087, 1086], ['regulation', 1087, 1114]], fcX: 1085, fcY: 1141 });
heatmap({ genes: apoGenes, lck: apoLck, lyn: apoLyn, plot: [1251, 1182, 1339, 1630], bar: [1353, 1367],
  stops: redGreen(-2.56, 1.93), ticks: [-2.5, -2, -1.5, -1, -.5, 0, .5, 1, 1.5],
  title: [['Apoptosis/', 1302, 1086], ['cell death', 1302, 1113]], fcX: 1293, fcY: 1140 });
heatmap({ genes: protGenes, lck: protLck, lyn: protLyn, plot: [44, 1760, 132, 2210], bar: [146, 160],
  stops: redGreen(-1.44, 1.27), ticks: [-1, -.5, 0, .5, 1],
  title: [['Proteasome/', 103, 1664], ['Ubiquitin', 88, 1692]], fcX: 85, fcY: 1722 });
heatmap({ genes: autoGenes, lck: autoLck, lyn: autoLyn, plot: [248, 1759, 337, 2211], bar: [350, 365],
  stops: redGreen(-1.11, 2.58), ticks: [-1, -.5, 0, .5, 1, 1.5, 2, 2.5],
  title: [['Autophagy', 303, 1687]], fcX: 291, fcY: 1717 });
heatmap({ genes: erGenes, lck: erLck, lyn: erLyn, plot: [456, 1755, 544, 2204], bar: [558, 572],
  stops: [[-1.55, [0, 70, 0]], [-.8, [0, 190, 0]], [0, BLACK]], ticks: [-1.5, -1, -.5, 0],
  title: [['ER/UPR', 507, 1690]], fcX: 499, fcY: 1717 });
text('D', 12, 1038, 26, ARIAL, { fontWeight: 'bold' });

// ---- panel E
const errorPlugin = {
  id: 'errorMarks',
  afterDatasetsDraw(chart) {
    const { ctx, scales: { y } } = chart;
    const errs = [qpcrLckErr, qpcrLynErr];
    const sigs = [qpcrLckSig, qpcrLynSig];
    const vals = [qpcrLck, qpcrLyn];
    ctx.save();
    vals.forEach((series, d) => {
      chart.getDatasetMeta(d).data.forEach((bar, i) => {
        if (series[i] === null) return;
        const v = series[i], e = errs[d][i], x = bar.x;
        const hi = y.getPixelForValue(v + e), lo = y.getPixelForValue(v - e);
        ctx.strokeStyle = '#333';
        ctx.lineWidth = 1;
        ctx.beginPath();
        ctx.moveTo(x, hi); ctx.lineTo(x, lo);
        ctx.moveTo(x - 3.5, hi); ctx.lineTo(x + 3.5, hi);
        ctx.moveTo(x - 3.5, lo); ctx.lineTo(x + 3.5, lo);
        if (e > 0) ctx.stroke();
        const mark = sigs[d][i];
        if (mark) {
          ctx.fillStyle = '#444';
          ctx.font = (mark === 'ns' ? '11px ' + NARROW : '13px ' + ARIAL);
          ctx.letterSpacing = mark === 'ns' ? '0px' : '2px';
          ctx.textAlign = 'center';
          ctx.textBaseline = 'middle';
          ctx.fillText(mark, x, v >= 0 ? hi - 10 : lo + 11);
        }
      });
    });
    ctx.restore();
  }
};

(function qpcr() {
  const l = 753, t = 1801, r = 1452, b = 2147, ml = 68, mb = 71;
  new Chart(canvasAt(l - ml, t, r - l + ml + 4, b - t + mb), {
    type: 'bar',
    data: { labels: qpcrGenes, datasets: [
      { data: qpcrLck, backgroundColor: '#000', borderColor: '#000', borderWidth: 1 },
      { data: qpcrLyn, backgroundColor: '#dcdcdc', borderColor: '#000', borderWidth: 2, borderSkipped: false }
    ] },
    options: {
      layout: { padding: { right: 4 } },
      datasets: { bar: { categoryPercentage: .83, barPercentage: .65 } },
      scales: {
        x: {
          afterFit: fixHeight(mb),
          border: { color: '#000', width: 3 },
          grid: { offset: false, drawOnChartArea: false, tickLength: 8, tickColor: '#000', tickWidth: 2 },
          ticks: { autoSkip: false, minRotation: 55, maxRotation: 55, color: '#222', padding: 4,
            font: { family: OPEN, size: 15.5, style: 'italic', weight: '600' } }
        },
        y: {
          min: -4, max: 4.54, afterBuildTicks: setTicks([-4, -3, -2, -1, 0, 1, 2, 3, 4]), afterFit: fixWidth(ml),
          border: { color: '#000', width: 2 },
          grid: { color: c => (c.tick && c.tick.value === 0 ? '#000' : 'rgba(0,0,0,0)'), lineWidth: 3,
            tickLength: 10, tickColor: '#000', tickWidth: 2.5 },
          ticks: { autoSkip: false, color: '#222', padding: 3, font: { family: NARROW, size: 17, weight: 'bold' },
            callback: v => String(v) },
          title: { display: true, text: 'log₂FC', color: '#666', font: { family: ARIAL, size: 20 }, padding: 0 }
        }
      }
    },
    plugins: [errorPlugin]
  });
})();
text('E', 670, 1748, 26, ARIAL, { fontWeight: 'bold' });
swatch(1361, 1838, 26, 16, '#000');
swatch(1361, 1872, 26, 16, '#dcdcdc', '#000');
text('Lck', 1416, 1846, 20, LATO);
text('Lyn', 1417, 1880, 20, LATO);
</script>
</body>
</html>
